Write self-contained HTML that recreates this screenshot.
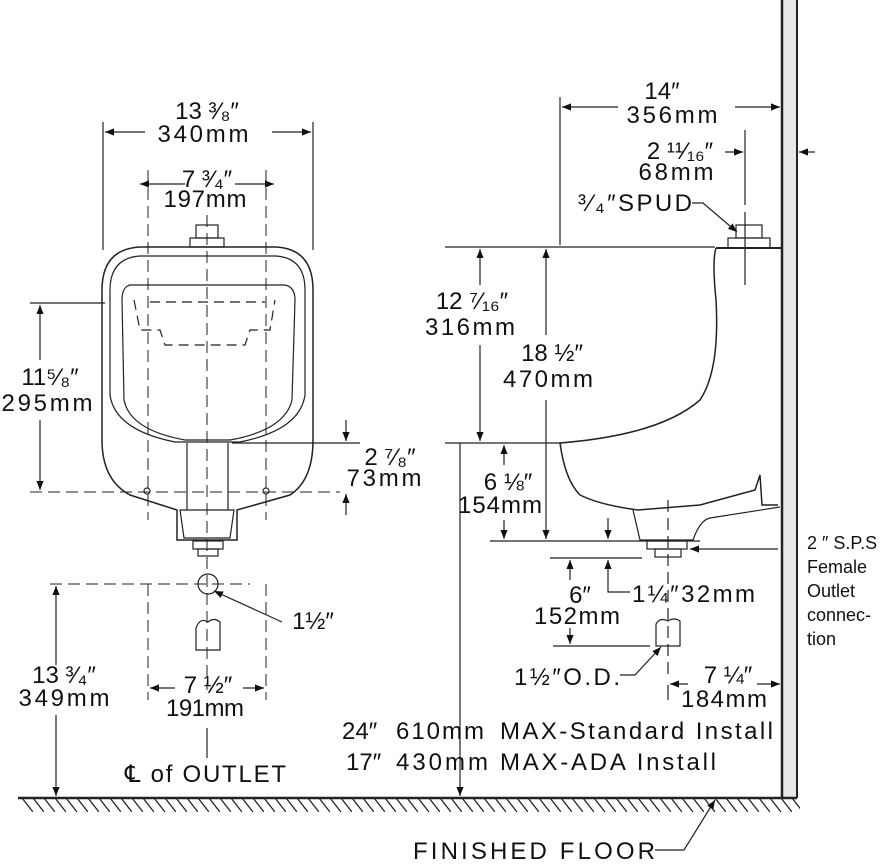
<!DOCTYPE html>
<html><head><meta charset="utf-8"><style>
html,body{margin:0;padding:0;background:#fff;}
svg{display:block;}
text{font-family:"Liberation Sans",sans-serif;fill:#111;}
</style></head><body>
<svg width="884" height="864" viewBox="0 0 884 864" xmlns="http://www.w3.org/2000/svg">
<defs>
<marker id="a" viewBox="0 0 10 10" refX="10" refY="5" markerWidth="9" markerHeight="9" orient="auto-start-reverse" markerUnits="userSpaceOnUse"><path d="M0,1 L10,5 L0,9 z" fill="#111"/></marker>
<pattern id="h" width="11" height="14" patternUnits="userSpaceOnUse"><path d="M0,0 L11,14" stroke="#222" stroke-width="1.3"/></pattern>
</defs>
<g fill="none" stroke="#222" stroke-width="1.2">
<rect x="782" y="0" width="15" height="798" fill="#e8e8e8" stroke="none"/>
<line x1="782" y1="0" x2="782" y2="798" stroke-width="2.5"/>
<line x1="797" y1="0" x2="797" y2="798" stroke-width="2"/>
<line x1="18" y1="798" x2="797" y2="798" stroke-width="2.5"/>
<rect x="22" y="799" width="778" height="13" fill="url(#h)" stroke="none"/>

<!-- FRONT VIEW -->
<path d="M140,247 L276,247 Q313,249 313,290 L313,440 Q313,480 290,495 L237,510 L237,540 L177,540 L177,510 L130,495 Q102,480 102,440 L102,290 Q102,249 140,247 Z" stroke-width="1.5"/>
<path d="M140,256 L276,256 Q305,258 305,290 L305,395 Q300,430 240,442 L175,442 Q115,430 110,395 L110,290 Q110,258 140,256 Z"/>
<path d="M130,285 L285,285 Q295,287 295,300 L292,400 Q285,430 230,440 L185,440 Q130,430 124,400 L122,300 Q122,287 130,285 Z"/>
<line x1="187" y1="443" x2="187" y2="510"/><line x1="228" y1="443" x2="228" y2="510"/>
<path d="M180,510 L234,510 L230,538 L184,538 Z"/>
<rect x="193" y="541" width="30" height="8"/><rect x="198" y="549" width="20" height="7"/>
<rect x="190" y="238" width="34" height="9"/><rect x="196" y="225" width="22" height="13"/>
<g stroke-dasharray="10,6"><path d="M134,300 L140,330 L160,330 L165,345 L245,345 L250,330 L270,330 L275,300"/><line x1="150" y1="302" x2="265" y2="302"/></g>
<circle cx="147" cy="491" r="3"/><circle cx="266" cy="491" r="3"/>
<circle cx="208" cy="584" r="10"/>
<path d="M196,650 L196,628 Q200,617 208,622 Q214,617 220,622 L220,650 Z"/>
<g stroke-dasharray="12,6" stroke-width="1">
<line x1="207" y1="215" x2="207" y2="690"/>
<line x1="148" y1="170" x2="148" y2="520"/><line x1="266" y1="170" x2="266" y2="520"/>
<line x1="30" y1="492" x2="340" y2="492"/>
<line x1="50" y1="584" x2="250" y2="584"/>
<line x1="148" y1="584" x2="148" y2="700"/><line x1="266" y1="584" x2="266" y2="700"/>
</g>
<line x1="103" y1="122" x2="103" y2="250"/><line x1="313" y1="122" x2="313" y2="250"/>
<line x1="207" y1="728" x2="207" y2="758"/>
<line x1="30" y1="303" x2="105" y2="303"/>
<line x1="232" y1="443" x2="360" y2="443"/>
<line x1="145" y1="132" x2="105" y2="132" marker-end="url(#a)"/><line x1="272" y1="132" x2="311" y2="132" marker-end="url(#a)"/>
<line x1="185" y1="184" x2="140" y2="184" marker-end="url(#a)"/><line x1="235" y1="184" x2="274" y2="184" marker-end="url(#a)"/>
<line x1="40" y1="360" x2="40" y2="305" marker-end="url(#a)"/><line x1="40" y1="420" x2="40" y2="490" marker-end="url(#a)"/>
<line x1="346" y1="420" x2="346" y2="441" marker-end="url(#a)"/><line x1="346" y1="515" x2="346" y2="494" marker-end="url(#a)"/>
<line x1="56" y1="665" x2="56" y2="586" marker-end="url(#a)"/><line x1="56" y1="715" x2="56" y2="796" marker-end="url(#a)"/>
<line x1="175" y1="688" x2="150" y2="688" marker-end="url(#a)"/><line x1="243" y1="688" x2="264" y2="688" marker-end="url(#a)"/>
<line x1="282" y1="622" x2="214" y2="591" marker-end="url(#a)"/>

<!-- SIDE VIEW -->
<path d="M716,248 Q712,260 716,300 Q720,370 700,400 Q660,435 560,443 Q565,480 580,495 Q600,505 638,510 L700,505 L755,490 L760,475 L762,505 L778,505" stroke-width="1.5"/>
<path d="M716,248 L782,248" stroke-width="2"/>
<path d="M633,510 L640,540 L693,540 Q700,520 710,518 L780,507"/>
<rect x="647" y="541" width="40" height="8"/><rect x="655" y="549" width="26" height="8"/>
<rect x="728" y="238" width="42" height="10"/><rect x="736" y="225" width="26" height="13"/>
<path d="M656,646 L656,624 Q660,617 668,621 Q674,617 680,621 L680,646 Z"/>
<line x1="668" y1="500" x2="668" y2="680" stroke-dasharray="12,6"/>
<line x1="745" y1="212" x2="745" y2="285"/>
<line x1="560" y1="97" x2="560" y2="245"/>
<line x1="745" y1="130" x2="745" y2="205"/>
<line x1="445" y1="247" x2="715" y2="247"/>
<line x1="445" y1="443" x2="562" y2="443"/>
<line x1="490" y1="541" x2="700" y2="541"/>
<line x1="550" y1="558" x2="642" y2="558"/>
<line x1="553" y1="646" x2="650" y2="646"/>
<line x1="460" y1="443" x2="460" y2="796" marker-end="url(#a)"/>
<line x1="668" y1="685" x2="668" y2="700"/>
<line x1="618" y1="107" x2="562" y2="107" marker-end="url(#a)"/><line x1="735" y1="107" x2="780" y2="107" marker-end="url(#a)"/>
<line x1="725" y1="152" x2="743" y2="152" marker-end="url(#a)"/><line x1="815" y1="152" x2="799" y2="152" marker-end="url(#a)"/>
<line x1="480" y1="285" x2="480" y2="249" marker-end="url(#a)"/><line x1="480" y1="345" x2="480" y2="441" marker-end="url(#a)"/>
<line x1="546" y1="335" x2="546" y2="249" marker-end="url(#a)"/><line x1="546" y1="400" x2="546" y2="539" marker-end="url(#a)"/>
<line x1="504" y1="465" x2="504" y2="445" marker-end="url(#a)"/><line x1="504" y1="520" x2="504" y2="539" marker-end="url(#a)"/>
<line x1="608" y1="518" x2="608" y2="539" marker-end="url(#a)"/>
<line x1="570" y1="580" x2="570" y2="560" marker-end="url(#a)"/><line x1="570" y1="628" x2="570" y2="644" marker-end="url(#a)"/>
<path d="M630,592 L608,592 L608,560" marker-end="url(#a)"/>
<line x1="778" y1="549" x2="690" y2="549" marker-end="url(#a)"/>
<line x1="688" y1="684" x2="670" y2="684" marker-end="url(#a)"/><line x1="757" y1="684" x2="780" y2="684" marker-end="url(#a)"/>
<path d="M620,675 L635,675 L661,647" marker-end="url(#a)"/>
<path d="M692,203 L703,203 L737,232" marker-end="url(#a)"/>
<path d="M655,850 L684,850 L715,800" marker-end="url(#a)"/>
</g>
<g font-size="24">
<text x="207" y="119" text-anchor="middle">13 ³⁄₈″</text>
<text x="203" y="142" text-anchor="middle" textLength="91">340mm</text>
<text x="207" y="187" text-anchor="middle">7 ³⁄₄″</text>
<text x="205" y="207" text-anchor="middle" textLength="83">197mm</text>
<text x="50" y="385" text-anchor="middle">11⁵⁄₈″</text>
<text x="47" y="411" text-anchor="middle" textLength="91">295mm</text>
<text x="390" y="465" text-anchor="middle">2 ⁷⁄₈″</text>
<text x="384" y="486" text-anchor="middle" textLength="75">73mm</text>
<text x="313" y="629" text-anchor="middle">1½″</text>
<text x="64" y="683" text-anchor="middle">13 ³⁄₄″</text>
<text x="64" y="706" text-anchor="middle" textLength="91">349mm</text>
<text x="208" y="693" text-anchor="middle">7 ½″</text>
<text x="205" y="716" text-anchor="middle" textLength="78">191mm</text>
<text x="125" y="782" textLength="161">℄ of OUTLET</text>
<text x="662" y="99" text-anchor="middle">14″</text>
<text x="672" y="123" text-anchor="middle" textLength="91">356mm</text>
<text x="680" y="159" text-anchor="middle">2 ¹¹⁄₁₆″</text>
<text x="676" y="180" text-anchor="middle" textLength="75">68mm</text>
<text x="578" y="211" textLength="114">³⁄₄″SPUD</text>
<text x="472" y="309" text-anchor="middle">12 ⁷⁄₁₆″</text>
<text x="470" y="335" text-anchor="middle" textLength="90">316mm</text>
<text x="552" y="361" text-anchor="middle">18 ½″</text>
<text x="548" y="387" text-anchor="middle" textLength="90">470mm</text>
<text x="508" y="490" text-anchor="middle">6 ⅛″</text>
<text x="500" y="513" text-anchor="middle" textLength="84">154mm</text>
<text x="580" y="603" text-anchor="middle">6″</text>
<text x="577" y="624" text-anchor="middle" textLength="86">152mm</text>
<text x="632" y="602" textLength="123">1¼″32mm</text>
<text x="514" y="685" textLength="106">1½″O.D.</text>
<text x="728" y="683" text-anchor="middle">7 ¼″</text>
<text x="724" y="707" text-anchor="middle" textLength="86">184mm</text>
<text x="342" y="739">24″</text><text x="396" y="739" textLength="88">610mm</text><text x="500" y="739" textLength="273">MAX-Standard Install</text>
<text x="346" y="770">17″</text><text x="396" y="770" textLength="92">430mm</text><text x="500" y="770" textLength="216">MAX-ADA Install</text>
<text x="413" y="859" textLength="242">FINISHED FLOOR</text>
</g>
<g font-size="18">
<text x="807" y="549">2 ″ S.P.S</text>
<text x="807" y="573">Female</text>
<text x="807" y="597">Outlet</text>
<text x="807" y="621">connec-</text>
<text x="807" y="645">tion</text>
</g>
</svg>
</body></html>
